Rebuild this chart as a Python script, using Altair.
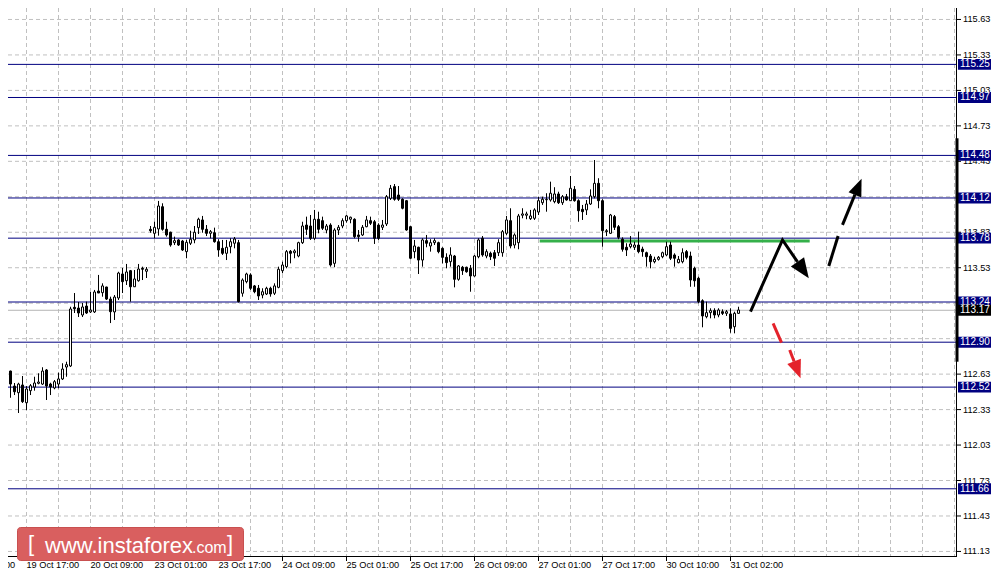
import pandas as pd
import altair as alt

# ---------------- data ----------------
FIRST_BAR = 10  # index of the first hourly bar (bar 0 = 19 Oct 01:00)
opens = [112.665, 112.637, 112.656, 112.529, 112.473, 112.538, 112.388, 112.490, 112.521, 112.552,
         112.546, 112.665, 112.546, 112.513, 112.546, 112.589, 112.690, 112.699, 113.195, 113.189,
         113.130, 113.206, 113.156, 113.156, 113.333, 113.319, 113.367, 113.265, 113.156, 113.274,
         113.477, 113.420, 113.505, 113.369, 113.420, 113.525, 113.500, 113.855, 113.821, 113.858,
         114.046, 113.855, 113.830, 113.742, 113.765, 113.756, 113.666, 113.737, 113.765, 113.869,
         113.934, 113.855, 113.821, 113.826, 113.750, 113.694, 113.652, 113.708, 113.737, 113.742,
         113.314, 113.412, 113.469, 113.376, 113.356, 113.299, 113.308, 113.356, 113.314, 113.364,
         113.505, 113.539, 113.669, 113.657, 113.629, 113.742, 113.891, 113.883, 113.779, 113.940,
         113.928, 113.849, 113.891, 113.567, 113.849, 113.883, 113.928, 113.940, 113.940, 113.807,
         113.807, 113.877, 113.928, 113.919, 113.891, 113.872, 113.900, 114.117, 114.216, 114.145,
         114.109, 114.097, 113.877, 113.666, 113.703, 113.595, 113.759, 113.714, 113.742, 113.742,
         113.694, 113.618, 113.581, 113.629, 113.432, 113.534, 113.534, 113.525, 113.460, 113.623,
         113.779, 113.629, 113.652, 113.657, 113.657, 113.657, 113.821, 113.928, 113.722, 113.742,
         113.974, 113.974, 113.945, 113.948, 114.001, 114.080, 114.105, 114.103, 114.089, 114.154,
         114.080, 114.131, 114.097, 114.193, 114.097, 114.024, 114.019, 114.069, 114.131, 114.244,
         114.097, 113.835, 113.821, 113.962, 113.877, 113.771, 113.703, 113.708, 113.703, 113.722,
         113.688, 113.657, 113.629, 113.581, 113.601, 113.623, 113.638, 113.722, 113.638, 113.573,
         113.581, 113.666, 113.629, 113.525, 113.441, 113.251, 113.116, 113.150, 113.167, 113.130,
         113.158, 113.144, 113.139, 113.031, 113.144]
highs = [112.716, 112.733, 112.659, 112.555, 112.557, 112.614, 112.529, 112.546, 112.608, 112.637,
         112.688, 112.673, 112.557, 112.580, 112.642, 112.722, 112.735, 113.200, 113.316, 113.240,
         113.232, 113.243, 113.325, 113.342, 113.469, 113.398, 113.369, 113.285, 113.299, 113.496,
         113.528, 113.562, 113.511, 113.511, 113.562, 113.539, 113.536, 113.883, 113.919, 114.095,
         114.075, 113.919, 113.835, 113.793, 113.771, 113.765, 113.765, 113.843, 113.883, 113.953,
         113.968, 113.891, 113.849, 113.869, 113.771, 113.765, 113.765, 113.779, 113.790, 113.765,
         113.440, 113.488, 113.483, 113.384, 113.384, 113.356, 113.369, 113.369, 113.398, 113.539,
         113.581, 113.680, 113.680, 113.686, 113.750, 113.919, 113.962, 113.976, 114.019, 114.004,
         113.962, 113.900, 113.906, 113.864, 113.891, 113.948, 113.976, 113.962, 113.948, 113.849,
         113.891, 113.968, 113.962, 113.934, 113.906, 113.934, 114.145, 114.230, 114.238, 114.221,
         114.117, 114.103, 113.883, 113.765, 113.708, 113.779, 113.807, 113.771, 113.779, 113.750,
         113.703, 113.652, 113.703, 113.638, 113.553, 113.545, 113.539, 113.553, 113.638, 113.779,
         113.798, 113.686, 113.666, 113.680, 113.771, 113.849, 113.968, 114.033, 113.821, 113.985,
         114.033, 114.004, 114.019, 114.033, 114.131, 114.131, 114.160, 114.258, 114.211, 114.173,
         114.145, 114.154, 114.306, 114.221, 114.109, 114.061, 114.103, 114.193, 114.441, 114.287,
         114.109, 113.857, 113.985, 113.976, 113.891, 113.787, 113.737, 113.798, 113.750, 113.835,
         113.708, 113.666, 113.646, 113.623, 113.629, 113.666, 113.750, 113.750, 113.652, 113.629,
         113.694, 113.680, 113.666, 113.539, 113.454, 113.263, 113.243, 113.187, 113.187, 113.187,
         113.178, 113.172, 113.187, 113.158, 113.200]
lows = [112.606, 112.597, 112.430, 112.453, 112.301, 112.386, 112.326, 112.453, 112.490, 112.544,
        112.538, 112.411, 112.453, 112.502, 112.510, 112.580, 112.608, 112.690, 113.147, 113.113,
        113.113, 113.139, 113.147, 113.147, 113.316, 113.285, 113.257, 113.062, 113.088, 113.257,
        113.316, 113.384, 113.243, 113.367, 113.412, 113.426, 113.443, 113.826, 113.779, 113.801,
        113.843, 113.793, 113.708, 113.722, 113.714, 113.672, 113.610, 113.722, 113.737, 113.815,
        113.826, 113.798, 113.779, 113.742, 113.623, 113.638, 113.595, 113.652, 113.694, 113.236,
        113.285, 113.398, 113.342, 113.314, 113.257, 113.271, 113.299, 113.285, 113.299, 113.356,
        113.483, 113.525, 113.567, 113.610, 113.618, 113.731, 113.807, 113.765, 113.765, 113.821,
        113.849, 113.821, 113.539, 113.534, 113.807, 113.864, 113.911, 113.906, 113.779, 113.750,
        113.798, 113.872, 113.891, 113.731, 113.765, 113.849, 113.883, 114.103, 114.097, 114.095,
        114.024, 113.843, 113.601, 113.610, 113.477, 113.539, 113.703, 113.666, 113.722, 113.652,
        113.567, 113.525, 113.539, 113.364, 113.420, 113.469, 113.488, 113.327, 113.454, 113.610,
        113.623, 113.610, 113.595, 113.545, 113.629, 113.623, 113.807, 113.694, 113.694, 113.686,
        113.948, 113.940, 113.934, 113.934, 113.976, 114.061, 114.004, 114.089, 114.075, 114.069,
        114.061, 114.097, 114.097, 114.089, 113.919, 113.934, 113.976, 114.061, 114.117, 114.033,
        113.708, 113.798, 113.815, 113.849, 113.771, 113.666, 113.629, 113.694, 113.680, 113.652,
        113.623, 113.539, 113.525, 113.567, 113.590, 113.610, 113.629, 113.595, 113.539, 113.567,
        113.567, 113.601, 113.369, 113.369, 113.229, 113.026, 113.102, 113.102, 113.102, 113.111,
        113.130, 113.122, 112.980, 112.975, 113.139]
closes = [112.642, 112.665, 112.546, 112.481, 112.546, 112.397, 112.504, 112.532, 112.555, 112.563,
          112.656, 112.529, 112.521, 112.566, 112.589, 112.673, 112.710, 113.181, 113.183, 113.147,
          113.198, 113.147, 113.172, 113.325, 113.316, 113.376, 113.265, 113.158, 113.282, 113.485,
          113.412, 113.494, 113.369, 113.435, 113.519, 113.517, 113.517, 113.843, 113.872, 114.052,
          113.855, 113.807, 113.722, 113.759, 113.722, 113.680, 113.745, 113.771, 113.830, 113.940,
          113.855, 113.821, 113.835, 113.750, 113.680, 113.652, 113.703, 113.750, 113.773, 113.243,
          113.426, 113.477, 113.356, 113.327, 113.291, 113.327, 113.356, 113.308, 113.376, 113.517,
          113.553, 113.666, 113.652, 113.672, 113.742, 113.883, 113.855, 113.779, 113.940, 113.855,
          113.864, 113.883, 113.553, 113.849, 113.872, 113.928, 113.968, 113.957, 113.793, 113.793,
          113.872, 113.934, 113.906, 113.779, 113.779, 113.891, 114.131, 114.202, 114.109, 114.109,
          114.033, 113.849, 113.610, 113.714, 113.595, 113.765, 113.737, 113.742, 113.759, 113.666,
          113.618, 113.573, 113.638, 113.432, 113.545, 113.505, 113.496, 113.460, 113.629, 113.765,
          113.638, 113.666, 113.623, 113.610, 113.742, 113.835, 113.934, 113.714, 113.807, 113.968,
          113.985, 113.985, 113.968, 114.019, 114.097, 114.109, 114.109, 114.160, 114.154, 114.080,
          114.131, 114.103, 114.202, 114.097, 114.012, 114.004, 114.069, 114.137, 114.244, 114.097,
          113.843, 113.843, 113.976, 113.872, 113.787, 113.686, 113.680, 113.731, 113.722, 113.666,
          113.666, 113.623, 113.581, 113.601, 113.618, 113.657, 113.708, 113.610, 113.610, 113.601,
          113.657, 113.618, 113.426, 113.420, 113.243, 113.122, 113.150, 113.167, 113.130, 113.172,
          113.144, 113.158, 113.017, 113.144, 113.172]

tick_labels = ["19 Oct 01:00", "19 Oct 17:00", "20 Oct 09:00", "23 Oct 01:00", "23 Oct 17:00",
               "24 Oct 09:00", "25 Oct 01:00", "25 Oct 17:00", "26 Oct 09:00", "27 Oct 01:00",
               "27 Oct 17:00", "30 Oct 10:00", "31 Oct 02:00"]
BARS_PER_LABEL = 16
BARS_PER_GRID = 8

price_ticks = [115.63, 115.33, 115.03, 114.73, 114.43, 114.13, 113.83, 113.53,
               113.23, 112.93, 112.63, 112.33, 112.03, 111.73, 111.43, 111.13]
levels = [115.25, 114.97, 114.48, 114.12, 113.78, 113.24, 112.90, 112.52, 111.66]
last_price = [113.17]
scroll_range = [112.735, 114.625]

green_x = [144.3, 211.8]
green_y = [113.755, 113.755]

# arrow paths (bar index, price)
arrow_seg = ["up", "up", "up", "b1", "b1", "b2", "b2", "r1", "r1", "r2", "r2"]
arrow_x = [197.0, 205.0, 208.75, 216.575, 218.9, 220.0, 223.1, 202.65, 204.75, 206.8, 207.9]
arrow_y = [113.158, 113.765, 113.580, 113.545, 113.798, 113.892, 114.148, 113.060, 112.896, 112.834, 112.737]
arrow_col = ["black"] * 7 + ["#e4222b"] * 4
head_x = [210.16, 223.94, 208.7]
head_y = [113.510, 114.214, 112.666]
head_angle = [145.5, 22.5, 159.3]
head_size = [400, 300, 330]
head_col = ["black", "black", "#e4222b"]

# ---------------- chart ----------------
W, H = 949, 549
FONT = "Liberation Sans"
NAVY = "#000080"
GRID = "#c0c0c0"

xs = alt.Scale(domain=[11.375, 248.625], nice=False, zero=False, padding=0)
ys = alt.Scale(domain=[111.083, 115.727], nice=False, zero=False, padding=0)

n = len(opens)
candles = pd.DataFrame({"i": list(range(FIRST_BAR, FIRST_BAR + n)),
                        "o": opens, "h": highs, "l": lows, "c": closes})

# --- grid and axes drawn as marks ---
vgrid = alt.Chart(pd.DataFrame({"g": list(range(BARS_PER_GRID, 256, BARS_PER_GRID))})).mark_rule(
    color=GRID, strokeDash=[4, 3], strokeWidth=1, clip=True
).encode(x=alt.X("g:Q", scale=xs, axis=None))

ptick_df = pd.DataFrame({"p": price_ticks, "txt": [f"{v:.2f}" for v in price_ticks]})
# tick labels that sit fully under a price box are not drawn (as on the reference)
covered = [p for p in price_ticks if any(abs(p - v) < 0.035 for v in levels + last_price)]
plabel_df = ptick_df[~ptick_df["p"].isin(covered)]

hgrid = alt.Chart(ptick_df).mark_rule(color=GRID, strokeDash=[4, 3], strokeWidth=1).encode(
    y=alt.Y("p:Q", scale=ys, axis=None))
yticks = alt.Chart(ptick_df).mark_rule(color="black", strokeWidth=1).encode(
    y=alt.Y("p:Q", scale=ys, axis=None), x=alt.value(W), x2=alt.value(W + 4))
ylabels = alt.Chart(plabel_df).mark_text(align="left", baseline="middle", font=FONT,
                                         fontSize=9.2, color="black").encode(
    y=alt.Y("p:Q", scale=ys, axis=None), x=alt.value(W + 6), text="txt:N")

xt_df = pd.DataFrame({"t": [BARS_PER_LABEL * k for k in range(len(tick_labels))],
                      "txt": tick_labels})
xticks = alt.Chart(xt_df).mark_rule(color="black", strokeWidth=1).encode(
    x=alt.X("t:Q", scale=xs, axis=None), y=alt.value(H), y2=alt.value(H + 4))
xlabels = alt.Chart(xt_df).mark_text(align="left", baseline="top", font=FONT,
                                     fontSize=9.2, color="black").encode(
    x=alt.X("t:Q", scale=xs, axis=None), y=alt.value(H + 4), text="txt:N")

frame_r = alt.Chart(pd.DataFrame({"a": [0]})).mark_rule(color="black", strokeWidth=1).encode(
    x=alt.value(W - 0.5), y=alt.value(0), y2=alt.value(H))
frame_b = alt.Chart(pd.DataFrame({"a": [0]})).mark_rule(color="black", strokeWidth=1).encode(
    y=alt.value(H - 0.5), x=alt.value(0), x2=alt.value(W))

# --- levels ---
lvl_df = pd.DataFrame({"lv": levels, "txt": [f"{v:.2f}" for v in levels]})
last_df = pd.DataFrame({"lv": last_price, "txt": [f"{v:.2f}" for v in last_price]})

level_lines = alt.Chart(lvl_df).mark_rule(color=NAVY, strokeWidth=1).encode(
    y=alt.Y("lv:Q", scale=ys, axis=None))
last_line = alt.Chart(last_df).mark_rule(color="#b4b4b4", strokeWidth=1).encode(
    y=alt.Y("lv:Q", scale=ys, axis=None))

green = alt.Chart(pd.DataFrame({"gx": green_x, "gy": green_y})).mark_line(
    color="#35b04a", strokeWidth=3).encode(
    x=alt.X("gx:Q", scale=xs, axis=None), y=alt.Y("gy:Q", scale=ys, axis=None))

# --- candles ---
wicks = alt.Chart(candles).mark_rule(color="black", strokeWidth=1, clip=True).encode(
    x=alt.X("i:Q", scale=xs, axis=None),
    y=alt.Y("l:Q", scale=ys, axis=None),
    y2="h:Q")
bodies = alt.Chart(candles).mark_bar(size=2, stroke="black", strokeWidth=1, clip=True).encode(
    x=alt.X("i:Q", scale=xs, axis=None),
    y=alt.Y("o:Q", scale=ys, axis=None),
    y2="c:Q",
    fill=alt.condition("datum.c >= datum.o", alt.value("white"), alt.value("black")))

# --- arrows ---
arr_df = pd.DataFrame({"ax": arrow_x, "ay": arrow_y, "seg": arrow_seg, "col": arrow_col,
                       "ord": list(range(len(arrow_x)))})
arrows = alt.Chart(arr_df).mark_line(strokeWidth=3, strokeJoin="miter").encode(
    x=alt.X("ax:Q", scale=xs, axis=None), y=alt.Y("ay:Q", scale=ys, axis=None),
    detail="seg:N", order="ord:Q", color=alt.Color("col:N", scale=None))
HEAD = "M0,-1L0.8,1L-0.8,1Z"
head_df = pd.DataFrame({"hx": head_x, "hy": head_y, "ang": head_angle, "sz": head_size, "col": head_col})
heads = alt.Chart(head_df).mark_point(shape=HEAD, filled=True, opacity=1, strokeWidth=0).encode(
    x=alt.X("hx:Q", scale=xs, axis=None), y=alt.Y("hy:Q", scale=ys, axis=None),
    angle=alt.Angle("ang:Q", scale=None), size=alt.Size("sz:Q", scale=None),
    fill=alt.Fill("col:N", scale=None))

scroll = alt.Chart(pd.DataFrame({"a": [scroll_range[0]], "b": [scroll_range[1]]})).mark_rule(
    color="black", strokeWidth=3).encode(
    x=alt.value(W), y=alt.Y("a:Q", scale=ys, axis=None), y2="b:Q")

def price_box(df, fill):
    box = alt.Chart(df).transform_calculate(
        top="datum.lv + 0.046", bot="datum.lv - 0.046"
    ).mark_rect(fill=fill).encode(
        x=alt.value(W + 1), x2=alt.value(W + 34),
        y=alt.Y("top:Q", scale=ys, axis=None), y2="bot:Q")
    txt = alt.Chart(df).mark_text(align="left", baseline="middle", color="white", font=FONT,
                                  fontSize=10).encode(
        x=alt.value(W + 3), y=alt.Y("lv:Q", scale=ys, axis=None), text="txt:N")
    return box + txt

lvl_boxes = price_box(lvl_df, NAVY)
last_box = price_box(last_df, "black")

# --- watermark ---
logo_box = alt.Chart(pd.DataFrame({"a": [0]})).mark_rect(
    fill="#d95f5f", stroke="#c85050", strokeWidth=1, cornerRadius=3).encode(
    x=alt.value(9.5), x2=alt.value(235.5), y=alt.value(519.5), y2=alt.value(552.5))

def logo_text(t, x, size, baseline="alphabetic", y=545):
    return alt.Chart(pd.DataFrame({"t": [t]})).mark_text(
        align="left", baseline=baseline, color="white", font=FONT, fontSize=size).encode(
        x=alt.value(x), y=alt.value(y), text="t:N")

logo = (logo_box + logo_text("[", 20, 22, "middle", 536)
        + logo_text("www.instaforex", 37, 22)
        + logo_text(".com", 184, 16)
        + logo_text("]", 219, 22, "middle", 536))

chart = alt.layer(
    vgrid, hgrid, level_lines, last_line, green, wicks, bodies, arrows, heads,
    frame_r, frame_b, xticks, xlabels, yticks, ylabels,
    lvl_boxes, last_box, scroll, logo
).properties(
    width=W, height=H,
    padding={"left": 0, "top": 0, "right": 35, "bottom": 13},
    autosize=alt.AutoSizeParams(type="none"),
    background="white",
).configure_view(stroke=None)

chart.save("out.html", embed_options={"renderer": "svg", "actions": False})
